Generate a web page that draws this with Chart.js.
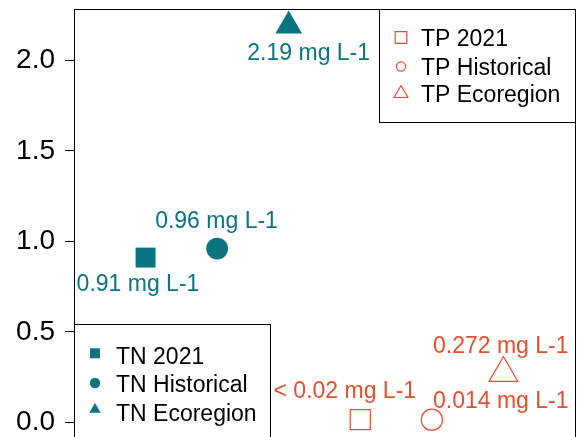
<!DOCTYPE html>
<html>
<head>
<meta charset="utf-8">
<script src="https://cdn.jsdelivr.net/npm/chart.js@4.4.1/dist/chart.umd.min.js"></script>
<style>
  html, body { margin: 0; padding: 0; background: #fff; overflow: hidden; }
  #wrap { width: 584px; height: 437px; }
</style>
</head>
<body>
<div id="wrap"><canvas id="nutrientChart" width="584" height="437"></canvas></div>
<script>
const FONT = '"Liberation Sans", Arial, Helvetica, sans-serif';
const TEAL = '#0b7480';
const RED = '#e2502f';

// data
const tnNames = ['TN 2021', 'TN Historical', 'TN Ecoregion'];
const tpNames = ['TP 2021', 'TP Historical', 'TP Ecoregion'];
const tnX = [1, 2, 3];
const tnValues = [0.91, 0.96, 2.19];
const tpX = [4, 5, 6];
const tpValues = [0.015, 0.014, 0.272];
const yTicks = [0, 0.5, 1, 1.5, 2];

// value labels, anchored in data units (centre of baseline)
const labelText = ['0.91 mg L-1', '0.96 mg L-1', '2.19 mg L-1', '< 0.02 mg L-1', '0.014 mg L-1', '0.272 mg L-1'];
const labelX = [0.894, 1.991, 3.279, 3.784, 5.963, 5.963];
const labelY = [0.725, 1.072, 2.0, 0.133, 0.077, 0.381];

const styles = ['rect', 'circle', 'triangle'];

function marker(ctx, style, x, y, r) {
    ctx.beginPath();
    if (style === 'rect') {
        const s = r * Math.SQRT1_2;
        ctx.rect(x - s, y - s, 2 * s, 2 * s);
    } else if (style === 'circle') {
        ctx.arc(x, y, r, 0, Math.PI * 2);
    } else {
        let a = 0;
        ctx.moveTo(x + Math.sin(a) * r, y - Math.cos(a) * r);
        a += 2 * Math.PI / 3;
        ctx.lineTo(x + Math.sin(a) * r, y - Math.cos(a) * r);
        a += 2 * Math.PI / 3;
        ctx.lineTo(x + Math.sin(a) * r, y - Math.cos(a) * r);
        ctx.closePath();
    }
}

const framePlugin = {
    id: 'frame',
    afterDatasetsDraw(chart) {
        const { ctx, chartArea: a } = chart;
        ctx.save();
        ctx.strokeStyle = '#000';
        ctx.lineWidth = 1;
        ctx.beginPath();
        ctx.moveTo(a.left + 0.5, a.bottom + 5);
        ctx.lineTo(a.left + 0.5, a.top + 0.5);
        ctx.lineTo(a.right + 0.5, a.top + 0.5);
        ctx.lineTo(a.right + 0.5, a.bottom + 5);
        ctx.stroke();
        ctx.restore();
    }
};

const labelPlugin = {
    id: 'valueLabels',
    afterDatasetsDraw(chart) {
        const { ctx } = chart;
        const xs = chart.scales.x, ys = chart.scales.y;
        ctx.save();
        ctx.font = '23px ' + FONT;
        ctx.textAlign = 'center';
        ctx.textBaseline = 'alphabetic';
        labelText.forEach((t, i) => {
            ctx.fillStyle = i < 3 ? TEAL : RED;
            ctx.fillText(t, xs.getPixelForValue(labelX[i]), ys.getPixelForValue(labelY[i]));
        });
        ctx.restore();
    }
};

const legendBoxes = [
    { names: tpNames, color: RED, filled: false, box: [379.5, 9.5, 196, 113], mx: 401, my: [37.5, 66.5, 93.5], tx: 421, ty: [46, 74.5, 102], r: [8.2, 4.6, 8] },
    { names: tnNames, color: TEAL, filled: true, box: [74.5, 324.5, 196, 200], mx: 95, my: [353.3, 383, 409.5], tx: 116, ty: [363.5, 392, 420.5], r: [7.1, 5.2, 6.6] }
];

const legendPlugin = {
    id: 'twoLegends',
    afterDraw(chart) {
        const { ctx } = chart;
        legendBoxes.forEach(lg => {
            ctx.save();
            ctx.fillStyle = '#fff';
            ctx.fillRect(lg.box[0], lg.box[1], lg.box[2], lg.box[3]);
            ctx.strokeStyle = '#000';
            ctx.lineWidth = 1;
            ctx.strokeRect(lg.box[0], lg.box[1], lg.box[2], lg.box[3]);
            lg.names.forEach((n, i) => {
                marker(ctx, styles[i], lg.mx, lg.my[i], lg.r[i]);
                if (lg.filled) {
                    ctx.fillStyle = lg.color;
                    ctx.fill();
                } else {
                    ctx.strokeStyle = lg.color;
                    ctx.lineWidth = 1.2;
                    ctx.stroke();
                }
                ctx.fillStyle = '#000';
                ctx.font = '23px ' + FONT;
                ctx.textAlign = 'left';
                ctx.textBaseline = 'alphabetic';
                ctx.fillText(n, lg.tx, lg.ty[i]);
            });
            ctx.restore();
        });
    }
};

const ctx = document.getElementById('nutrientChart').getContext('2d');
new Chart(ctx, {
    type: 'scatter',
    data: {
        datasets: [
            {
                label: 'TN',
                data: tnX.map((x, i) => ({ x: x, y: tnValues[i] })),
                pointStyle: styles,
                pointRadius: [14.1, 10.9, 15.4],
                backgroundColor: TEAL,
                borderColor: TEAL,
                borderWidth: 0
            },
            {
                label: 'TP',
                data: tpX.map((x, i) => ({ x: x, y: tpValues[i] })),
                pointStyle: styles,
                pointRadius: [14.2, 10.6, 16.6],
                backgroundColor: 'rgba(0,0,0,0)',
                borderColor: RED,
                borderWidth: 1.2
            }
        ]
    },
    options: {
        responsive: false,
        animation: false,
        devicePixelRatio: 1,
        layout: { autoPadding: false, padding: { top: 9, right: 9, bottom: 0, left: 0 } },
        plugins: {
            legend: { display: false },
            tooltip: { enabled: false }
        },
        scales: {
            x: { type: 'linear', min: 0, max: 7, display: false },
            y: {
                min: -0.0812,
                max: 2.2834,
                afterBuildTicks: (s) => { s.ticks = yTicks.map(v => ({ value: v })); },
                afterFit: (s) => { s.width = 74; s.paddingTop = 0; s.paddingBottom = 0; },
                ticks: {
                    font: { family: FONT, size: 28 },
                    color: '#000',
                    padding: 10,
                    callback: (v) => Number(v).toFixed(1)
                },
                grid: { drawOnChartArea: false, drawTicks: true, tickLength: 9, color: '#000', tickWidth: 1 },
                border: { display: true, color: '#000', width: 1 }
            }
        }
    },
    plugins: [framePlugin, labelPlugin, legendPlugin]
});
</script>
</body>
</html>
